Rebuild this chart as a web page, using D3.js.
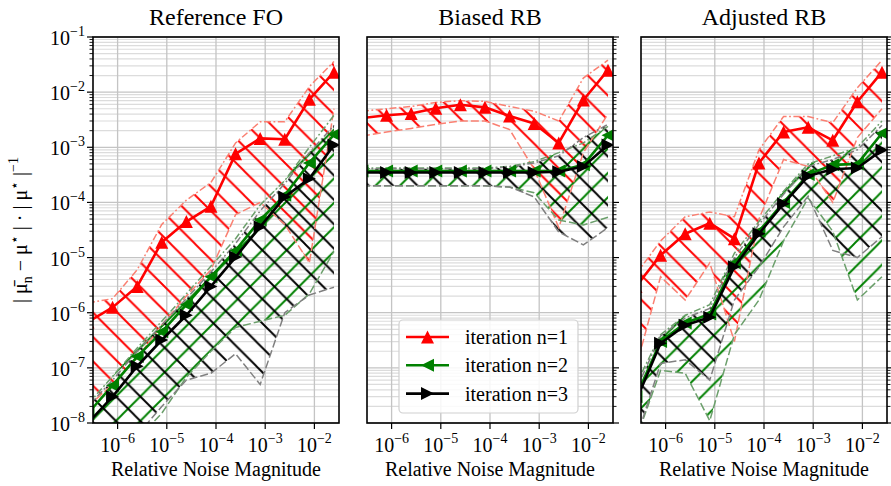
<!DOCTYPE html>
<html><head><meta charset="utf-8">
<script src="https://cdn.jsdelivr.net/npm/d3@7"></script>
<style>
body{margin:0;background:#fff;font-family:"Liberation Serif",serif}
svg{display:block;font-family:"Liberation Serif",serif}
svg text, svg tspan{font-family:"Liberation Serif",serif !important}
</style>
</head><body>
<svg id="c" width="891" height="486" font-family="Liberation Serif"></svg>
<script>
// ---------------- data ----------------
const noise = [2.5e-7, 7.9e-7, 2.5e-6, 7.9e-6, 2.5e-5, 7.9e-5, 2.5e-4, 7.9e-4, 2.5e-3, 7.9e-3, 2.5e-2];
const panelTitles = ["Reference FO", "Biased RB", "Adjusted RB"];
const seriesNames = ["iteration n=1", "iteration n=2", "iteration n=3"];
const xTickExponents = [-6, -5, -4, -3, -2];
const yTickExponents = [-1, -2, -3, -4, -5, -6, -7, -8];

// Reference FO
const foRedMean   = [6.8e-7, 1.25e-6, 3e-6, 1.9e-5, 4.5e-5, 8.5e-5, 7.6e-4, 1.45e-3, 1.4e-3, 7.4e-3, 2.3e-2];
const foRedHi     = [1.5e-6, 1.8e-6, 6e-6, 4e-5, 1.1e-4, 2.3e-4, 1.2e-3, 2.9e-3, 2.9e-3, 1.26e-2, 3.6e-2];
const foRedLo     = [2e-8, 5e-8, 1.5e-7, 6e-7, 2e-6, 6e-6, 6e-5, 1e-4, 4e-5, 8e-6, 5e-3];
const foGreenMean = [1.5e-8, 4.8e-8, 1.6e-7, 4.5e-7, 1.4e-6, 4.5e-6, 1.35e-5, 4.8e-5, 1.35e-4, 5.2e-4, 1.7e-3];
const foGreenHi   = [2.2e-8, 7e-8, 2.3e-7, 7e-7, 2.2e-6, 7e-6, 2.2e-5, 9e-5, 2.5e-4, 1e-3, 3.8e-3];
const foGreenLo   = [1e-9, 2e-9, 5e-9, 1.5e-8, 6.8e-8, 2e-7, 5.4e-7, 7e-7, 9e-7, 2.2e-6, 1.3e-5];
const foBlackMean = [1e-8, 3e-8, 1.07e-7, 3.2e-7, 9e-7, 3e-6, 1.02e-5, 3.6e-5, 1.26e-4, 2.7e-4, 1.1e-3];
const foBlackHi   = [2e-8, 6e-8, 2e-7, 6e-7, 1.8e-6, 5.5e-6, 1.8e-5, 7e-5, 2.2e-4, 8e-4, 2.5e-3];
const foBlackLo   = [1e-9, 2e-9, 6e-9, 2e-8, 6e-8, 8e-8, 1.8e-7, 5e-8, 1e-6, 2.1e-6, 2.9e-6];

// Biased RB
const brRedMean   = [3.4e-3, 3.8e-3, 4.1e-3, 5.1e-3, 5.9e-3, 5.3e-3, 3.7e-3, 2.7e-3, 1.2e-3, 7.2e-3, 2.5e-2];
const brRedHi     = [4.5e-3, 5e-3, 5.5e-3, 6.5e-3, 7e-3, 6.8e-3, 5.5e-3, 4.5e-3, 3e-3, 1.8e-2, 3.8e-2];
const brRedLo     = [1.6e-3, 1.9e-3, 2.2e-3, 2.6e-3, 3e-3, 3e-3, 2.1e-3, 4e-4, 3.5e-5, 8e-4, 4e-3];
const brGreenMean = [3.7e-4, 3.7e-4, 3.7e-4, 3.7e-4, 3.7e-4, 3.7e-4, 3.7e-4, 3.7e-4, 3.7e-4, 4.8e-4, 1.65e-3];
const brGreenHi   = [4.2e-4, 4.2e-4, 4.2e-4, 4.2e-4, 4.2e-4, 4.2e-4, 4.5e-4, 5.5e-4, 8e-4, 1.2e-3, 2.4e-3];
const brGreenLo   = [2e-4, 2e-4, 2e-4, 2e-4, 2e-4, 2e-4, 1.9e-4, 1.5e-4, 4.8e-5, 3.9e-5, 5.4e-5];
const brBlackMean = [3.5e-4, 3.5e-4, 3.5e-4, 3.5e-4, 3.5e-4, 3.5e-4, 3.5e-4, 3.5e-4, 3.6e-4, 4.5e-4, 1.1e-3];
const brBlackHi   = [4.1e-4, 4.1e-4, 4.1e-4, 4.1e-4, 4.1e-4, 4.1e-4, 4.4e-4, 5.2e-4, 7e-4, 1.5e-3, 2.6e-3];
const brBlackLo   = [2e-4, 2e-4, 2e-4, 2e-4, 2e-4, 2e-4, 1.9e-4, 1.26e-4, 2.9e-5, 1.7e-5, 3.5e-5];

// Adjusted RB
const arRedMean   = [3e-6, 1.1e-5, 2.7e-5, 4.2e-5, 2.2e-5, 5.2e-4, 1.9e-3, 2.3e-3, 1.34e-3, 6.7e-3, 2.3e-2];
const arRedHi     = [5e-6, 2e-5, 5.5e-5, 6.7e-5, 5.5e-5, 9e-4, 3.6e-3, 3.6e-3, 2.8e-3, 1.2e-2, 3.8e-2];
const arRedLo     = [1e-7, 4.5e-6, 1.7e-6, 8e-6, 3e-7, 5e-5, 6e-4, 4.5e-4, 1e-4, 1.5e-3, 5e-3];
const arGreenMean = [3e-8, 3e-7, 6.5e-7, 9.5e-7, 8e-6, 3e-5, 1e-4, 3.2e-4, 4.8e-4, 5e-4, 1.8e-3];
const arGreenHi   = [5e-8, 4e-7, 9e-7, 1.4e-6, 1.2e-5, 4.5e-5, 1.6e-4, 5e-4, 7e-4, 1e-3, 3e-3];
const arGreenLo   = [5e-9, 9e-8, 8e-8, 1.1e-8, 4e-7, 1.7e-6, 2e-5, 1.2e-4, 3e-5, 1.7e-6, 4.5e-6];
const arBlackMean = [2.5e-8, 2.8e-7, 5.9e-7, 8.3e-7, 6.8e-6, 2.7e-5, 9.5e-5, 3e-4, 4e-4, 4.2e-4, 8.9e-4];
const arBlackHi   = [4e-8, 3.8e-7, 8e-7, 1.2e-6, 1e-5, 4e-5, 1.4e-4, 4.5e-4, 6e-4, 9e-4, 2.5e-3];
const arBlackLo   = [5e-9, 1.2e-7, 1.4e-7, 6e-8, 1.7e-6, 6.8e-6, 3.6e-5, 1.3e-4, 1.35e-5, 1e-5, 2.4e-5];

// ---------------- styling ----------------
const FONT = "Liberation Serif";
const seriesStyle = [
  {color: "#ff0000", bound: "#fa8072", hatch: "back", marker: "up"},
  {color: "#008000", bound: "#6b9f6b", hatch: "fwd", marker: "left"},
  {color: "#000000", bound: "#808080", hatch: "back", marker: "right"}
];
const panels = [
  {title: panelTitles[0], series: [
    {mean: foRedMean, lo: foRedLo, hi: foRedHi},
    {mean: foGreenMean, lo: foGreenLo, hi: foGreenHi},
    {mean: foBlackMean, lo: foBlackLo, hi: foBlackHi}]},
  {title: panelTitles[1], series: [
    {mean: brRedMean, lo: brRedLo, hi: brRedHi},
    {mean: brGreenMean, lo: brGreenLo, hi: brGreenHi},
    {mean: brBlackMean, lo: brBlackLo, hi: brBlackHi}]},
  {title: panelTitles[2], series: [
    {mean: arRedMean, lo: arRedLo, hi: arRedHi},
    {mean: arGreenMean, lo: arGreenLo, hi: arGreenHi},
    {mean: arBlackMean, lo: arBlackLo, hi: arBlackHi}]}
];

const svg = d3.select("#c");
const lefts = [93, 367, 641];
const W = 246, TOP = 37, BOT = 423;
const y = d3.scaleLog().domain([1e-8, 1e-1]).range([BOT, TOP]);

function addText(sel) {
  return sel.append("text").attr("font-family", FONT).attr("fill", "#000");
}

const defs = svg.append("defs");
const HS = 24.4;
seriesStyle.forEach((s, i) => {
  const p = defs.append("pattern").attr("id", "hatch" + i)
    .attr("patternUnits", "userSpaceOnUse").attr("width", HS).attr("height", HS)
    .attr("x", i === 2 ? HS / 2 : 0).attr("y", 0);
  const d = s.hatch === "back"
    ? `M-3,-3L${HS + 3},${HS + 3}M-3,${HS - 3}L3,${HS + 3}M${HS - 3},-3L${HS + 3},3`
    : `M-3,${HS + 3}L${HS + 3},-3M-3,3L3,-3M${HS - 3},${HS + 3}L${HS + 3},${HS - 3}`;
  p.append("path").attr("d", d).attr("stroke", s.color).attr("stroke-width", 1.9).attr("fill", "none");
});

function markerPath(type, r) {
  if (type === "up") return `M0,${-r}L${r},${r}L${-r},${r}Z`;
  if (type === "left") return `M${-r},0L${r},${-r}L${r},${r}Z`;
  return `M${r},0L${-r},${-r}L${-r},${r}Z`;
}

function supText(sel, base, sup, fs, sfs) {
  sel.append("tspan").text(base).attr("font-size", fs);
  sel.append("tspan").text(sup).attr("font-size", sfs).attr("dy", -fs * 0.45);
}

panels.forEach((panel, pi) => {
  const L = lefts[pi];
  const x = d3.scaleLog().domain([Math.pow(10, -6.5), Math.pow(10, -1.5)]).range([L, L + W]);
  const g = svg.append("g");
  const clipId = "clip" + pi;
  defs.append("clipPath").attr("id", clipId).append("rect")
    .attr("x", L).attr("y", TOP).attr("width", W).attr("height", BOT - TOP);

  const minorY = [];
  for (let e = -8; e < -1; e++) for (let m = 2; m <= 9; m++) minorY.push(m * Math.pow(10, e));
  g.append("g").selectAll("line").data(minorY).join("line")
    .attr("x1", L).attr("x2", L + W).attr("y1", d => y(d)).attr("y2", d => y(d))
    .attr("stroke", "#dcdcdc").attr("stroke-width", 1.2);
  const majorY = yTickExponents.map(e => Math.pow(10, e));
  g.append("g").selectAll("line").data(majorY).join("line")
    .attr("x1", L).attr("x2", L + W).attr("y1", d => y(d)).attr("y2", d => y(d))
    .attr("stroke", "#c4c4c4").attr("stroke-width", 1.3);
  const majorX = xTickExponents.map(e => Math.pow(10, e));
  g.append("g").selectAll("line").data(majorX).join("line")
    .attr("x1", d => x(d)).attr("x2", d => x(d)).attr("y1", TOP).attr("y2", BOT)
    .attr("stroke", "#c4c4c4").attr("stroke-width", 1.3);

  const plot = g.append("g").attr("clip-path", `url(#${clipId})`);
  const area = d3.area().x((d, i) => x(noise[i])).y0(d => y(d[0])).y1(d => y(d[1]));
  const line = d3.line().x((d, i) => x(noise[i])).y(d => y(d));

  panel.series.forEach((s, si) => {
    plot.append("path").datum(s.lo.map((v, i) => [v, s.hi[i]]))
      .attr("d", area).attr("fill", `url(#hatch${si})`).attr("stroke", "none");
  });
  panel.series.forEach((s, si) => {
    const st = seriesStyle[si];
    plot.append("path").datum(s.hi).attr("d", line).attr("fill", "none")
      .attr("stroke", st.bound).attr("stroke-width", 1.5).attr("stroke-dasharray", "7,2.5,1.8,2.5");
    plot.append("path").datum(s.lo).attr("d", line).attr("fill", "none")
      .attr("stroke", st.bound).attr("stroke-width", 1.5).attr("stroke-dasharray", "8,3");
  });
  panel.series.forEach((s, si) => {
    const st = seriesStyle[si];
    plot.append("path").datum(s.mean).attr("d", line).attr("fill", "none")
      .attr("stroke", st.color).attr("stroke-width", 2.6).attr("stroke-linejoin", "round");
    plot.append("g").selectAll("path").data(s.mean).join("path")
      .attr("transform", (d, i) => `translate(${x(noise[i])},${y(d)})`)
      .attr("d", markerPath(st.marker, 6.5)).attr("fill", st.color);
  });

  g.append("rect").attr("x", L).attr("y", TOP).attr("width", W).attr("height", BOT - TOP)
    .attr("fill", "none").attr("stroke", "#000").attr("stroke-width", 1.6);

  const xt = g.append("g");
  majorX.forEach((v, i) => {
    xt.append("line").attr("x1", x(v)).attr("x2", x(v)).attr("y1", BOT).attr("y2", BOT + 6)
      .attr("stroke", "#000").attr("stroke-width", 1.2);
    const t = addText(xt).attr("x", x(v)).attr("y", 452).attr("text-anchor", "middle");
    supText(t, "10", "\u2212" + Math.abs(xTickExponents[i]), 20, 14);
  });
  addText(g).attr("x", L + W / 2).attr("y", 476).attr("text-anchor", "middle")
    .attr("font-size", 20).text("Relative Noise Magnitude");
  addText(g).attr("x", L + W / 2).attr("y", 25).attr("text-anchor", "middle")
    .attr("font-size", 24).text(panel.title);

  const onLeft = pi === 0;
  const ax = onLeft ? L : L + W;
  const dir = onLeft ? -1 : 1;
  const yt = g.append("g");
  majorY.forEach((v, i) => {
    yt.append("line").attr("x1", ax).attr("x2", ax + dir * 6).attr("y1", y(v)).attr("y2", y(v))
      .attr("stroke", "#000").attr("stroke-width", 1.2);
    if (onLeft) {
      const t = addText(yt).attr("x", 85).attr("y", y(v) + 8).attr("text-anchor", "end");
      supText(t, "10", "\u2212" + Math.abs(yTickExponents[i]), 20, 14);
    }
  });
  minorY.forEach(v => {
    yt.append("line").attr("x1", ax).attr("x2", ax + dir * 3.5).attr("y1", y(v)).attr("y2", y(v))
      .attr("stroke", "#000").attr("stroke-width", 0.9);
  });
});

// y-axis label
const yl = addText(svg).attr("transform", "translate(27,230) rotate(-90)")
  .attr("text-anchor", "middle").attr("font-size", 20);
yl.append("tspan").text("| \u03BC\u0304");
yl.append("tspan").text("n").attr("font-size", 14).attr("dy", 5);
yl.append("tspan").text(" \u2212 \u03BC").attr("dy", -5);
yl.append("tspan").text("\u22C6").attr("font-size", 14).attr("dy", -8);
yl.append("tspan").text(" | \u00B7 | \u03BC").attr("dy", 8);
yl.append("tspan").text("\u22C6").attr("font-size", 14).attr("dy", -8);
yl.append("tspan").text(" |").attr("dy", 8);
yl.append("tspan").text("\u22121").attr("font-size", 14).attr("dy", -9);

// legend
const lg = svg.append("g");
lg.append("rect").attr("x", 399).attr("y", 320).attr("width", 179).attr("height", 93)
  .attr("rx", 4).attr("fill", "#fff").attr("fill-opacity", 0.85).attr("stroke", "#d0d0d0").attr("stroke-width", 1.2);
seriesNames.forEach((name, i) => {
  const yy = 337 + i * 28.3;
  const st = seriesStyle[i];
  lg.append("line").attr("x1", 406).attr("x2", 449).attr("y1", yy).attr("y2", yy)
    .attr("stroke", st.color).attr("stroke-width", 2.6);
  lg.append("path").attr("transform", `translate(427.5,${yy})`).attr("d", markerPath(st.marker, 6.5)).attr("fill", st.color);
  addText(lg).attr("x", 465).attr("y", yy + 7).attr("font-size", 20).text(name);
});
</script>
</body></html>
